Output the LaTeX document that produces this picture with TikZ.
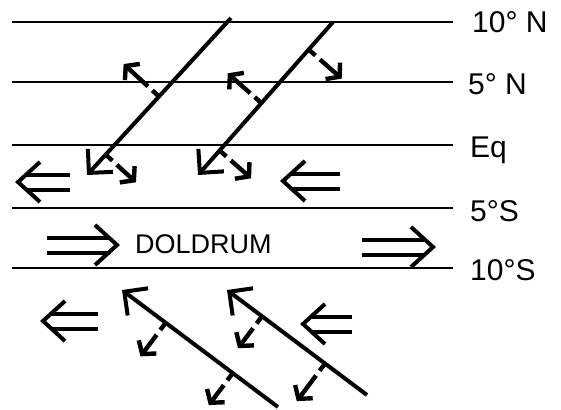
\documentclass[tikz,border=0pt]{standalone}
\usepackage{fontspec}
\setmainfont{Liberation Sans}
\usetikzlibrary{arrows.meta,calc}
\begin{document}
\begin{tikzpicture}[x=1pt,y=-1pt,
  lat/.style={line width=2pt},
  front/.style={line width=4pt,-{Straight Barb[length=17pt,width=34pt]}},
  flow/.style={line width=4.4pt,dash pattern=on 9pt off 6pt on 60pt off 0pt,-{Straight Barb[length=9pt,width=22pt]}},
  lbl/.style={font=\fontsize{30}{30}\selectfont,anchor=base west,inner sep=0pt},
  bar/.style={line width=4pt},
  dblleft/.pic={
    \draw[bar] (9,-7.5) -- (#1,-7.5) (9,7.5) -- (#1,7.5);
    \draw[bar,line join=miter] (22,-20) -- (0,0) -- (22,20);
  }
]
\useasboundingbox (0,0) rectangle (561,409);

% latitude lines
\foreach \n/\y in {nten/22,nfive/82,eq/145,sfive/208,sten/268}{
  \coordinate (\n W) at (12,\y);
  \coordinate (\n E) at (453,\y);
  \draw[lat] (\n W) -- (\n E);
}

% labels
\node[lbl] (l1) at (472,33) {10° N};
\node[lbl] (l2) at (468,95) {5° N};
\node[lbl] (l3) at (470,157) {Eq};
\node[lbl] (l4) at (470,221) {5°S};
\node[lbl] (l5) at (470,280) {10°S};
\node[lbl,font=\fontsize{27}{27}\selectfont] (dol) at (135,253) {DOLDRUM};

% northern fronts
\coordinate (f1a) at (231,18);
\coordinate (f1b) at (87,175);
\draw[front] (f1a) -- (f1b);
\coordinate (f1p) at ($(f1a)!0.5!(f1b)$);
\coordinate (f1q) at ($(f1p)!48pt!-90:(f1b)$);
\draw[flow] (f1p) -- (f1q);
\coordinate (f1r) at ($(f1a)!0.87!(f1b)$);
\coordinate (f1s) at ($(f1r)!41pt!90:(f1b)$);
\draw[flow] (f1r) -- (f1s);

\coordinate (f2a) at (333,22);
\coordinate (f2b) at (198,175);
\draw[front] (f2a) -- (f2b);
\coordinate (f2p) at ($(f2a)!0.18!(f2b)$);
\coordinate (f2q) at ($(f2p)!44pt!90:(f2b)$);
\draw[flow] (f2p) -- (f2q);
\coordinate (f2r) at ($(f2a)!0.53!(f2b)$);
\coordinate (f2s) at ($(f2r)!45pt!-90:(f2b)$);
\draw[flow] (f2r) -- (f2s);
\coordinate (f2t) at ($(f2a)!0.84!(f2b)$);
\coordinate (f2u) at ($(f2t)!42pt!90:(f2b)$);
\draw[flow] (f2t) -- (f2u);

% southern fronts
\coordinate (f3a) at (122,290);
\coordinate (f3b) at (278,407);
\draw[front] (f3b) -- (f3a);
\coordinate (f3p) at ($(f3a)!0.28!(f3b)$);
\coordinate (f3q) at ($(f3p)!42pt!-90:(f3b)$);
\draw[flow] (f3p) -- (f3q);
\coordinate (f3r) at ($(f3a)!0.71!(f3b)$);
\coordinate (f3s) at ($(f3r)!40pt!-90:(f3b)$);
\draw[flow] (f3r) -- (f3s);

\coordinate (f4a) at (227,290);
\coordinate (f4b) at (367,395);
\draw[front] (f4b) -- (f4a);
\coordinate (f4p) at ($(f4a)!0.25!(f4b)$);
\coordinate (f4q) at ($(f4p)!40pt!-90:(f4b)$);
\draw[flow] (f4p) -- (f4q);
\coordinate (f4r) at ($(f4a)!0.70!(f4b)$);
\coordinate (f4s) at ($(f4r)!47pt!-90:(f4b)$);
\draw[flow] (f4r) -- (f4s);

% double arrows
\pic (da1) at (18,182) {dblleft=52};
\pic (da2) at (283,181) {dblleft=57};
\pic[xscale=-1] (da3) at (117,245) {dblleft=70};
\pic[xscale=-1] (da4) at (433,247) {dblleft=71};
\pic (da5) at (43,321) {dblleft=55};
\pic (da6) at (303,324) {dblleft=49};
\end{tikzpicture}
\end{document}
